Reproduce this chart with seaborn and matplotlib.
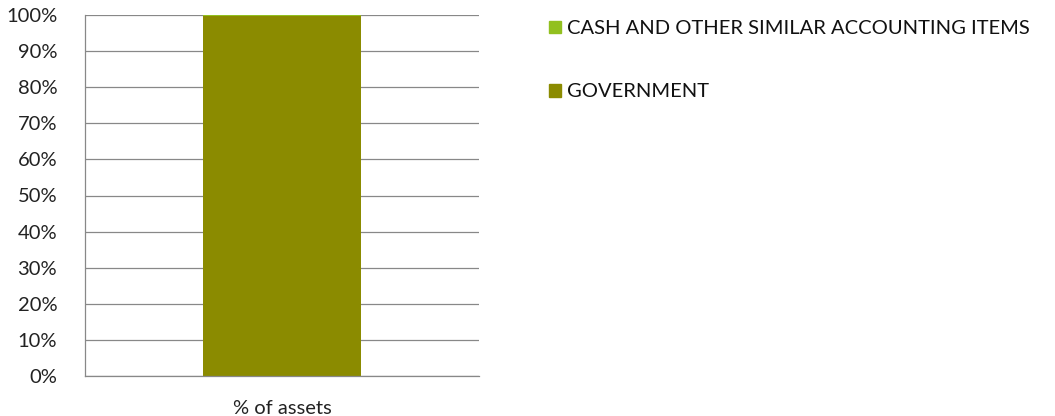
import matplotlib

matplotlib.use("Agg")
import matplotlib.pyplot as plt
import matplotlib.patches as mpatches
import pandas as pd
import seaborn as sns

categories = ["% of assets"]
series_names = ["CASH AND OTHER SIMILAR ACCOUNTING ITEMS", "GOVERNMENT"]
cash = [0.4]
government = [99.6]
colors = ["#92c01f", "#8b8b00"]

sns.set_theme(style="white")
plt.rcParams["font.family"] = ["Lato", "DejaVu Sans"]
FS = 14.5

df = pd.DataFrame({"cat": categories, "cash": cash, "gov": government})
df["total"] = df["cash"] + df["gov"]

fig = plt.figure(figsize=(10.55, 4.16), dpi=100)
ax = fig.add_axes([85 / 1055, 1 - 376 / 416, (479 - 85) / 1055, (376 - 15) / 416])

# stacked bar: total in cash colour, government drawn over it
sns.barplot(data=df, x="cat", y="total", color=colors[0], width=0.4, saturation=1, linewidth=0, ax=ax)
sns.barplot(data=df, x="cat", y="gov", color=colors[1], width=0.4, saturation=1, linewidth=0, ax=ax)

ax.set_ylim(0, 100)
ax.set_xlim(-0.5, 0.5)
ax.set_yticks(range(0, 101, 10))
ax.set_yticklabels([f"{v}%" for v in range(0, 101, 10)], fontsize=FS, color="#222222")
ax.tick_params(axis="x", labelsize=FS, labelcolor="#222222", pad=17, length=0)
ax.tick_params(axis="y", length=0, pad=20)
ax.set_xlabel("")
ax.set_ylabel("")
ax.grid(axis="y", color="#888888", linewidth=0.9)
ax.set_axisbelow(True)
for s in ["top", "right"]:
    ax.spines[s].set_visible(False)
for s in ["left", "bottom"]:
    ax.spines[s].set_color("#888888")
    ax.spines[s].set_linewidth(0.9)

handles = [mpatches.Patch(color=c, label=n) for c, n in zip(colors, series_names)]
fig.legend(
    handles=handles,
    loc="upper left",
    bbox_to_anchor=(531 / 1055, 1 - 2 / 416),
    frameon=False,
    fontsize=FS,
    handlelength=0.6,
    handleheight=0.6,
    handletextpad=0.3,
    labelspacing=2.3,
    labelcolor="#111111",
)

fig.savefig("out.png", dpi=100)
